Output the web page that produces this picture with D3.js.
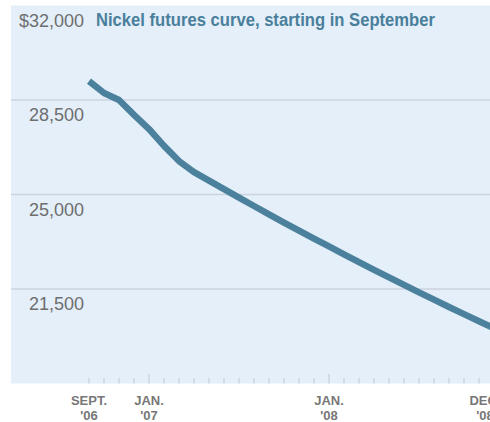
<!DOCTYPE html>
<html>
<head>
<meta charset="utf-8">
<script src="https://cdn.jsdelivr.net/npm/d3@7"></script>
<style>
  html, body { margin: 0; padding: 0; background: #ffffff; }
  svg { display: block; }
</style>
</head>
<body>
<div id="chart"></div>
<script>
// ---- data ----
const months = ["Sep06","Oct06","Nov06","Dec06","Jan07","Feb07","Mar07","Apr07","May07","Jun07","Jul07","Aug07",
  "Sep07","Oct07","Nov07","Dec07","Jan08","Feb08","Mar08","Apr08","May08","Jun08","Jul08","Aug08","Sep08","Oct08","Nov08","Dec08"];
const prices = [29200, 28760, 28500, 27950, 27425, 26800, 26240, 25830, 25515, 25200, 24885, 24575,
  24265, 23960, 23660, 23365, 23075, 22785, 22495, 22210, 21930, 21650, 21375, 21105, 20835, 20570, 20305, 20045];
const yTicks = [32000, 28500, 25000, 21500];
const yTickLabels = ["$32,000", "28,500", "25,000", "21,500"];
const xLabelIdx = [0, 4, 16, 27];
const xLabelTop = ["SEPT.", "JAN.", "JAN.", "DEC."];
const xLabelBottom = ["'06", "'07", "'08", "'08"];
const title = "Nickel futures curve, starting in September";

// ---- layout ----
const W = 490, H = 422;
const panel = {x0: 11, x1: 490, y0: 5.5, y1: 383.5};

const svg = d3.select("#chart").append("svg").attr("width", W).attr("height", H);

const x = d3.scaleLinear().domain([0, 27]).range([89, 494]);
const y = d3.scaleLinear().domain([18000, 32000]).range([panel.y1, panel.y0]);

svg.append("rect")
  .attr("x", panel.x0).attr("y", panel.y0)
  .attr("width", panel.x1 - panel.x0).attr("height", panel.y1 - panel.y0)
  .attr("fill", "#e4effa");

// gridlines
svg.selectAll(".grid").data(yTicks.filter(d => d < 32000)).enter().append("line")
  .attr("x1", panel.x0).attr("x2", panel.x1)
  .attr("y1", d => y(d)).attr("y2", d => y(d))
  .attr("stroke", "#cbd3de").attr("stroke-width", 1.5);

// y labels
svg.selectAll(".ylab").data(yTicks).enter().append("text")
  .attr("x", 84).attr("y", d => y(d) + 21)
  .attr("text-anchor", "end")
  .attr("font-family", "'Liberation Sans', Arial, sans-serif")
  .attr("font-size", 18)
  .attr("fill", "#6e6e6e")
  .text((d, i) => yTickLabels[i]);

// title
svg.append("text")
  .attr("x", 96).attr("y", 26)
  .attr("font-family", "'Liberation Sans Narrow', 'Liberation Sans', Arial, sans-serif")
  .attr("font-weight", "bold")
  .attr("font-size", 18)
  .attr("fill", "#4a7f9c")
  .attr("textLength", 339)
  .attr("lengthAdjust", "spacingAndGlyphs")
  .text(title);

// x ticks
svg.selectAll(".xtick").data(d3.range(months.length)).enter().append("line")
  .attr("x1", d => x(d)).attr("x2", d => x(d))
  .attr("y1", d => months[d].startsWith("Jan") ? 374 : 378)
  .attr("y2", panel.y1)
  .attr("stroke", "#bfc8d2").attr("stroke-width", 1);

// x labels (centre clamped so the last one sits as in the original)
const labelX = d => Math.min(x(d), W - 5);
const xl = svg.selectAll(".xlab").data(xLabelIdx).enter().append("text")
  .attr("text-anchor", "middle")
  .attr("font-family", "'Liberation Sans', Arial, sans-serif")
  .attr("font-weight", "bold")
  .attr("font-size", 13)
  .attr("fill", "#777777");
xl.append("tspan").attr("x", labelX).attr("y", 405).text((d, i) => xLabelTop[i]);
xl.append("tspan").attr("x", labelX).attr("y", 420).text((d, i) => xLabelBottom[i]);

// line
const line = d3.line().x((d, i) => x(i)).y(d => y(d)).curve(d3.curveLinear);
svg.append("path")
  .datum(prices)
  .attr("d", line)
  .attr("fill", "none")
  .attr("stroke", "#4b819c")
  .attr("stroke-width", 6.5)
  .attr("stroke-linejoin", "round")
  .attr("stroke-linecap", "butt");
</script>
</body>
</html>
